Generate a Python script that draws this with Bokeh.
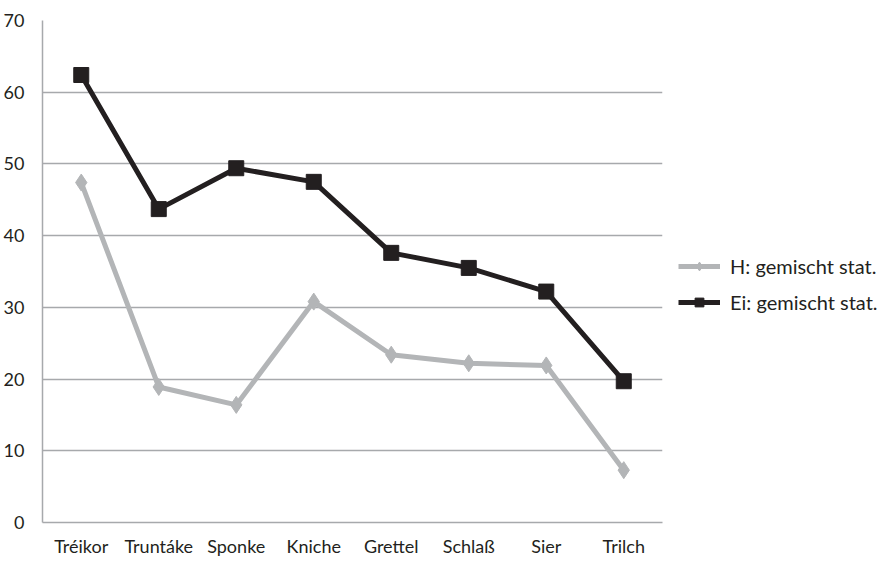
from bokeh.plotting import figure
from bokeh.models import FactorRange, Range1d, Legend, LegendItem, SingleIntervalTicker
from bokeh.embed import file_html
from bokeh.resources import INLINE

categories = ["Tréikor", "Truntáke", "Sponke", "Kniche", "Grettel", "Schlaß", "Sier", "Trilch"]
h_values = [47.4, 18.9, 16.4, 30.8, 23.4, 22.2, 21.9, 7.3]
ei_values = [62.4, 43.7, 49.4, 47.5, 37.6, 35.5, 32.2, 19.7]
series_names = ["H: gemischt stat.", "Ei: gemischt stat."]

FONT = "Lato"
TXT = "#231f20"
GREY = "#b3b5b7"
BLACK = "#231f20"
GRID = "#a7a9ac"

p = figure(frame_width=620, frame_height=502, x_range=FactorRange(*categories, range_padding=0),
           y_range=Range1d(0, 70), output_backend="svg", toolbar_location=None,
           min_border_left=40, min_border_right=0, min_border_top=20, min_border_bottom=0)
p.outline_line_color = None
p.background_fill_color = "white"

p.xgrid.grid_line_color = None
p.ygrid.grid_line_color = GRID
p.ygrid.grid_line_width = 1.5

p.yaxis.ticker = SingleIntervalTicker(interval=10)
for ax in (p.xaxis[0], p.yaxis[0]):
    ax.axis_line_color = GRID
    ax.axis_line_width = 1.5
    ax.major_tick_line_color = None
    ax.minor_tick_line_color = None
    ax.major_label_text_font = FONT
    ax.major_label_text_font_size = "18px"
    ax.major_label_text_color = TXT
p.yaxis.major_label_standoff = 12
p.xaxis.major_label_standoff = 6

rh = p.line(categories, h_values, line_color=GREY, line_width=5)
mh = p.scatter(categories, h_values, marker="diamond", size=17, fill_color=GREY, line_color=GREY)
re = p.line(categories, ei_values, line_color=BLACK, line_width=5)
me = p.scatter(categories, ei_values, marker="square", size=15, fill_color=BLACK, line_color=BLACK)

legend = Legend(items=[LegendItem(label=series_names[0], renderers=[rh, mh]),
                       LegendItem(label=series_names[1], renderers=[re, me])],
                location=(16, 208), orientation="vertical")
legend.border_line_color = None
legend.background_fill_alpha = 0
legend.label_text_font = FONT
legend.label_text_font_size = "20px"
legend.label_text_color = TXT
legend.glyph_width = 42
legend.glyph_height = 22
legend.label_standoff = 10
legend.spacing = 12
legend.padding = 0
legend.margin = 0
p.add_layout(legend, "right")

open("out.html", "w").write(file_html(p, INLINE))
